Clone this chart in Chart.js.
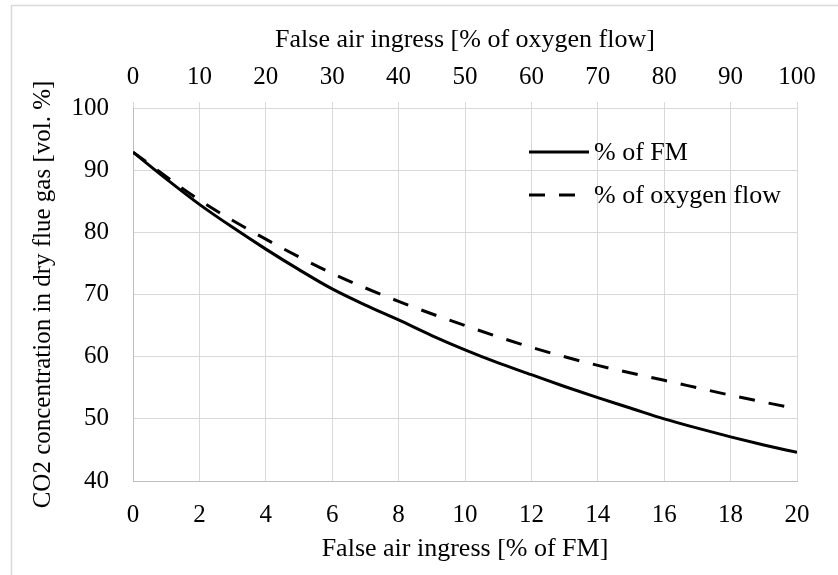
<!DOCTYPE html>
<html>
<head>
<meta charset="utf-8">
<script src="https://cdn.jsdelivr.net/npm/chart.js@4.4.0/dist/chart.umd.min.js"></script>
<style>
  html, body { margin: 0; padding: 0; background: #fff; }
  #wrap { width: 838px; height: 575px; }
</style>
</head>
<body>
<div id="wrap"><canvas id="co2Chart" width="838" height="575"></canvas></div>
<script>
// Solid curve: false air ingress in % of FM (bottom axis)
const fmIngress = [0, 1, 2, 3, 4, 5, 6, 7, 8, 9, 10, 11, 12, 13, 14, 15, 16, 17, 18, 19, 20];
const co2ByFm = [92.9, 88.6, 84.5, 80.8, 77.3, 74.0, 70.9, 68.3, 65.9, 63.4, 61.1, 59.0, 57.1, 55.2, 53.4, 51.7, 50.0, 48.5, 47.1, 45.8, 44.6];

// Dashed curve: false air ingress in % of oxygen flow (top axis)
const oxyIngress = [0, 10, 20, 30, 40, 50, 60, 70, 80, 90, 100];
const co2ByOxy = [92.9, 85.2, 78.9, 73.4, 68.9, 65.0, 61.5, 58.6, 56.2, 53.8, 51.6];

// Tick labels
const fmTicks = [0, 2, 4, 6, 8, 10, 12, 14, 16, 18, 20];
const oxyTicks = [0, 10, 20, 30, 40, 50, 60, 70, 80, 90, 100];
const co2Ticks = [40, 50, 60, 70, 80, 90, 100];

const FONT = '"Liberation Serif", "Times New Roman", serif';
const GRID = '#d9d9d9';
const AXIS = '#bfbfbf';

function toPoints(xs, ys) {
  return xs.map((x, i) => ({ x: x, y: ys[i] }));
}

function fixedTicks(values) {
  return function(scale) {
    scale.ticks = values.map(v => ({ value: v }));
  };
}

// Light frame round the figure, like the exported chart area
const framePlugin = {
  id: 'frame',
  beforeDraw(chart) {
    const ctx = chart.ctx;
    ctx.save();
    ctx.fillStyle = '#fff';
    ctx.fillRect(0, 0, chart.width, chart.height);
    ctx.strokeStyle = '#d9d9d9';
    ctx.lineWidth = 1.5;
    ctx.strokeRect(11.5, 5.5, chart.width + 20, chart.height + 20);
    ctx.restore();
  }
};

// Legend drawn inside the plot area, upper right
const insideLegend = {
  id: 'insideLegend',
  afterDatasetsDraw(chart) {
    const ctx = chart.ctx;
    const rows = [152, 195];
    ctx.save();
    chart.data.datasets.forEach((ds, i) => {
      const y = rows[i];
      ctx.strokeStyle = ds.borderColor;
      ctx.lineWidth = ds.borderWidth;
      ctx.setLineDash(ds.borderDash || []);
      ctx.beginPath();
      ctx.moveTo(529, y);
      ctx.lineTo(589, y);
      ctx.stroke();
      ctx.setLineDash([]);
      ctx.fillStyle = '#000';
      ctx.font = '26px ' + FONT;
      ctx.textAlign = 'left';
      ctx.textBaseline = 'middle';
      ctx.fillText(ds.label, 594, y + 1);
    });
    ctx.restore();
  }
};

const ctx = document.getElementById('co2Chart').getContext('2d');

new Chart(ctx, {
  type: 'line',
  data: {
    datasets: [
      {
        label: '% of FM',
        data: toPoints(fmIngress, co2ByFm),
        xAxisID: 'x',
        yAxisID: 'y',
        borderColor: '#000',
        borderWidth: 3,
        pointRadius: 0,
        cubicInterpolationMode: 'monotone'
      },
      {
        label: '% of oxygen flow',
        data: toPoints(oxyIngress, co2ByOxy),
        xAxisID: 'x2',
        yAxisID: 'y',
        borderColor: '#000',
        borderWidth: 3,
        borderDash: [16, 14],
        pointRadius: 0,
        cubicInterpolationMode: 'monotone'
      }
    ]
  },
  options: {
    responsive: false,
    animation: false,
    devicePixelRatio: 1,
    layout: { padding: { left: 0, right: 41, top: 0, bottom: 0 } },
    plugins: {
      legend: { display: false },
      tooltip: { enabled: false }
    },
    scales: {
      x: {
        type: 'linear',
        position: 'bottom',
        min: 0,
        max: 20,
        afterBuildTicks: fixedTicks(fmTicks),
        afterFit(scale) { scale.height = 94; },
        grid: { color: GRID, drawTicks: false },
        border: { color: AXIS },
        ticks: { color: '#000', padding: 19, maxRotation: 0, font: { family: FONT, size: 25 } },
        title: {
          display: true,
          text: 'False air ingress [% of FM]',
          color: '#000',
          padding: { top: 0, bottom: 10 },
          font: { family: FONT, size: 26 }
        }
      },
      x2: {
        type: 'linear',
        position: 'top',
        min: 0,
        max: 100,
        afterBuildTicks: fixedTicks(oxyTicks),
        afterFit(scale) { scale.height = 108; },
        grid: { color: GRID, drawOnChartArea: false, drawTicks: true, tickLength: 6 },
        border: { color: GRID },
        ticks: { color: '#000', padding: 10, maxRotation: 0, font: { family: FONT, size: 25 } },
        title: {
          display: true,
          text: 'False air ingress [% of oxygen flow]',
          color: '#000',
          padding: { top: 25, bottom: 0 },
          font: { family: FONT, size: 26 }
        }
      },
      y: {
        type: 'linear',
        position: 'left',
        min: 40,
        max: 100,
        afterBuildTicks: fixedTicks(co2Ticks),
        afterFit(scale) { scale.width = 133; },
        grid: { color: GRID, drawTicks: false },
        border: { color: AXIS },
        ticks: { color: '#000', padding: 24, font: { family: FONT, size: 25 } },
        title: {
          display: true,
          text: 'CO2 concentration in dry flue gas [vol. %]',
          color: '#000',
          padding: { top: 28, bottom: 0 },
          font: { family: FONT, size: 25 }
        }
      }
    }
  },
  plugins: [framePlugin, insideLegend]
});
</script>
</body>
</html>
